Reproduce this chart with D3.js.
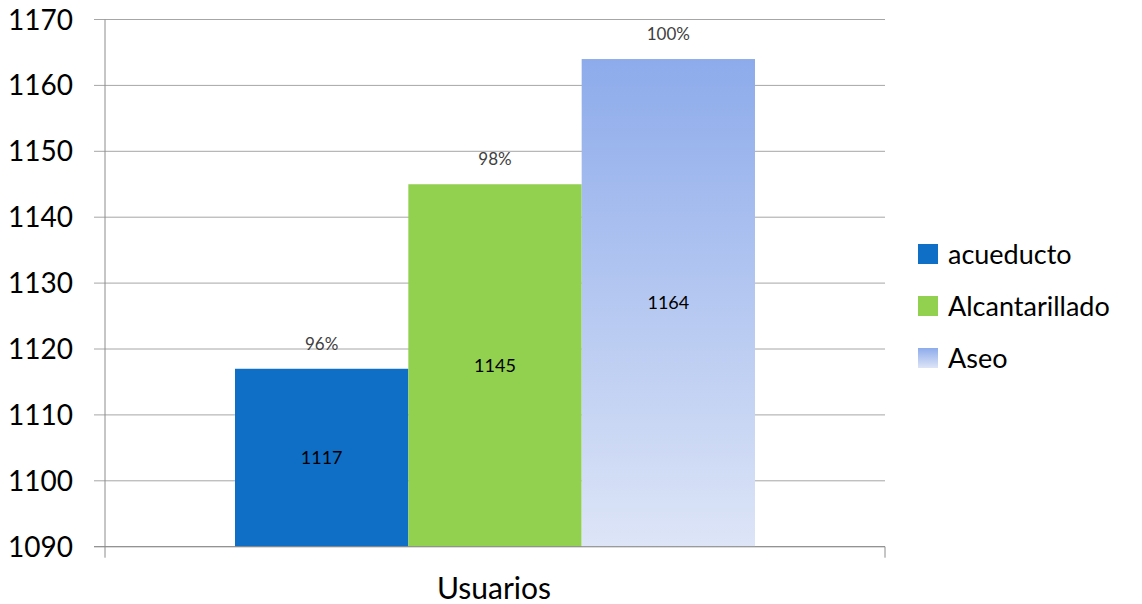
<!DOCTYPE html>
<html><head><meta charset="utf-8">
<script src="https://cdn.jsdelivr.net/npm/d3@7"></script>
<style>body{margin:0;background:#fff}svg{display:block}text{font-family:Lato,"Open Sans",sans-serif}</style>
</head><body>
<svg id="c" width="1142" height="604"></svg>
<script>
const category = "Usuarios";
const series = ["acueducto", "Alcantarillado", "Aseo"];
const values = [1117, 1145, 1164];
const percents = ["96%", "98%", "100%"];
const yTicks = [1090, 1100, 1110, 1120, 1130, 1140, 1150, 1160, 1170];

(function(){
const svg = d3.select("#c");
const pLeft = 105, pRight = 885, pTop = 19.5, pBottom = 546.7;
const y = d3.scaleLinear().domain([1090, 1170]).range([pBottom, pTop]);
const x0 = d3.scaleBand().domain([category]).range([pLeft, pRight]).paddingInner(0).paddingOuter(0);
const groupW = x0.bandwidth();
const inner = d3.scaleBand().domain(series).range([x0(category) + groupW/6, x0(category) + groupW*5/6]).padding(0);

const defs = svg.append("defs");
const g1 = defs.append("linearGradient").attr("id","aseo").attr("x1",0).attr("y1",0).attr("x2",0).attr("y2",1);
g1.append("stop").attr("offset","0%").attr("stop-color","#8dabeb");
g1.append("stop").attr("offset","100%").attr("stop-color","#dde5f7");
const colors = ["#0f6fc6", "#92d050", "url(#aseo)"];

// gridlines
svg.append("g").selectAll("line").data(yTicks).join("line")
  .attr("x1", pLeft - 11).attr("x2", pRight)
  .attr("y1", d => y(d)).attr("y2", d => y(d))
  .attr("stroke", "#a6a6a6").attr("stroke-width", 1);

// y axis labels
svg.append("g").selectAll("text").data(yTicks).join("text")
  .attr("x", 73).attr("y", d => y(d)).attr("dy", "0.36em")
  .attr("text-anchor", "end").attr("font-size", 28).attr("fill", "#000")
  .text(d => d);

// bars
svg.append("g").selectAll("rect").data(values).join("rect")
  .attr("x", (d,i) => inner(series[i])).attr("width", inner.bandwidth())
  .attr("y", d => y(d)).attr("height", d => y(1090) - y(d))
  .attr("fill", (d,i) => colors[i]);

// axes lines
svg.append("line").attr("x1", pLeft).attr("x2", pLeft).attr("y1", pTop).attr("y2", pBottom + 11).attr("stroke", "#8c8c8c");
svg.append("line").attr("x1", pLeft - 11).attr("x2", pRight).attr("y1", pBottom).attr("y2", pBottom).attr("stroke", "#8c8c8c");
svg.append("line").attr("x1", pRight).attr("x2", pRight).attr("y1", pBottom).attr("y2", pBottom + 11).attr("stroke", "#8c8c8c");

// value labels
svg.append("g").selectAll("text").data(values).join("text")
  .attr("x", (d,i) => inner(series[i]) + inner.bandwidth()/2)
  .attr("y", d => (y(d) + y(1090))/2).attr("dy", "0.36em")
  .attr("text-anchor", "middle").attr("font-size", 18).attr("fill", "#000")
  .text(d => d);

// percent labels
svg.append("g").selectAll("text").data(values).join("text")
  .attr("x", (d,i) => inner(series[i]) + inner.bandwidth()/2)
  .attr("y", d => y(d) - 25).attr("dy", "0.36em")
  .attr("text-anchor", "middle").attr("font-size", 17).attr("fill", "#404040")
  .text((d,i) => percents[i]);

// category label
svg.append("text").attr("x", x0(category) + groupW/2 - 1).attr("y", 599)
  .attr("text-anchor", "middle").attr("font-size", 30).attr("fill", "#000").text(category);

// legend
const lg = svg.append("g").selectAll("g").data(series).join("g")
  .attr("transform", (d,i) => `translate(918,${244 + i*52})`);
lg.append("rect").attr("width", 20).attr("height", 20).attr("fill", (d,i) => colors[i]);
lg.append("text").attr("x", 30).attr("y", 10).attr("dy", "0.36em").attr("font-size", 27).attr("fill", "#000").text(d => d);
})();
</script>
</body></html>
